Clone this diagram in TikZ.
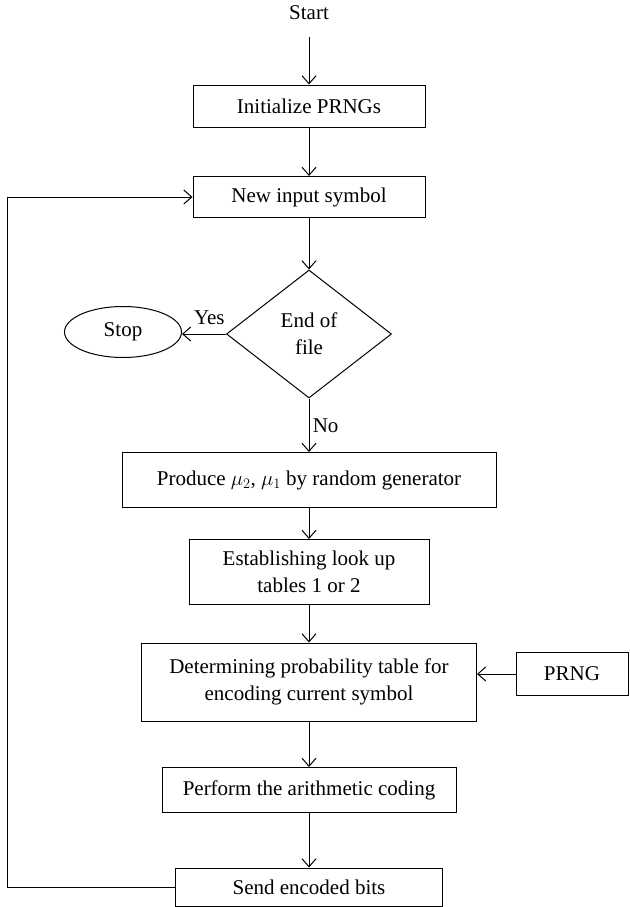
\documentclass[tikz,border=0pt]{standalone}
\usepackage{fontspec}
\setmainfont{Liberation Serif}
\usetikzlibrary{shapes.geometric,arrows.meta}

\begin{document}
\begin{tikzpicture}[x=1pt, y=1pt, node distance=92pt, font=\fontsize{21}{27}\selectfont]
                \tikzstyle{process} = [rectangle, draw, line width=1pt, text centered, align=center, inner sep=4pt]
                \tikzstyle{decision} = [diamond, draw, line width=1pt, aspect=1.3, inner sep=0pt, minimum width=165pt, minimum height=128pt, align=center]
                \tikzstyle{terminal} = [ellipse, draw, line width=1pt, minimum width=117pt, minimum height=51pt]
                \tikzstyle{arrow} = [line width=1pt,->,>={Straight Barb[length=8pt,width=14pt]}]

                \useasboundingbox (0,0) rectangle (629,-907);

                \node (start) at (309,-13) [minimum height=48pt] {Start};
                \node (init) [process, below of=start, yshift=-1pt, minimum width=232pt, minimum height=42pt] {Initialize PRNGs};
                \node (newsym) [process, below of=init, yshift=1pt, minimum width=232pt, minimum height=41pt] {New input symbol};
                \node (eof) [decision, below of=newsym, yshift=-45pt] {End of\\file};
                \node (stop) [terminal, left of=eof, xshift=-94pt, yshift=2pt] {Stop};
                \node (produce) [process, below of=eof, yshift=-54pt, minimum width=374pt, minimum height=55pt] {Produce $\mu_2$, $\mu_1$ by random generator};
                \node (lookup) [process, below of=produce, minimum width=240pt, minimum height=65pt] {Establishing look up\\tables 1 or 2};
                \node (probtab) [process, below of=lookup, yshift=-18pt, minimum width=335pt, minimum height=78pt] {Determining probability table for\\encoding current symbol};
                \node (prng) [process, right of=probtab, xshift=171pt, yshift=8pt, minimum width=112pt, minimum height=43pt] {PRNG};
                \node (arith) [process, below of=probtab, yshift=-16pt, minimum width=294pt, minimum height=45pt] {Perform the arithmetic coding};
                \node (send) [process, below of=arith, yshift=-5pt, minimum width=267pt, minimum height=38pt] {Send encoded bits};

                \draw [arrow] (start) -- (init);
                \draw [arrow] (init) -- (newsym);
                \draw [arrow] (newsym) -- (eof);
                \draw [arrow] (eof.west) -- node[pos=0.38, above, yshift=5pt] {Yes} (stop.east |- eof.west);
                \draw [arrow] (eof) -- node[right] {No} (produce);
                \draw [arrow] (produce) -- (lookup);
                \draw [arrow] (lookup) -- (probtab);
                \draw [arrow] (prng.west) -- (prng.west -| probtab.east);
                \draw [arrow] (probtab) -- (arith);
                \draw [arrow] (arith) -- (send);
                \draw [arrow] (send.west) -- ++(-168,0) |- (newsym.west);
            \end{tikzpicture}
\end{document}
